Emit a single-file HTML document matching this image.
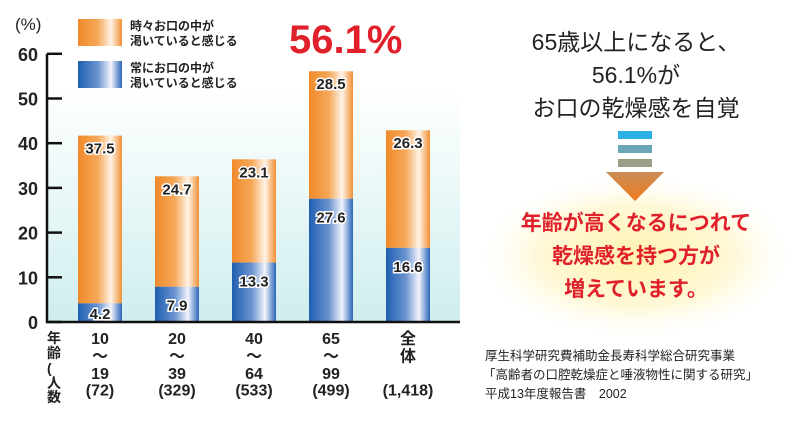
<!DOCTYPE html>
<html><head><meta charset="utf-8"><style>
body{margin:0;background:#fff;}
svg text{font-family:"Liberation Sans","Noto Sans CJK JP",sans-serif;}
</style></head><body>
<svg width="800" height="420" viewBox="0 0 800 420">
<defs>
<linearGradient id="bg" x1="0" y1="0" x2="0" y2="1"><stop offset="0" stop-color="#fff"/><stop offset="1" stop-color="#cfeeee"/></linearGradient>
<linearGradient id="og" x1="0" y1="0" x2="1" y2="0"><stop offset="0" stop-color="#f08a2a"/><stop offset="0.45" stop-color="#f6a85a"/><stop offset="0.75" stop-color="#fff3e6"/><stop offset="1" stop-color="#f29035"/></linearGradient>
<linearGradient id="bgl" x1="0" y1="0" x2="1" y2="0"><stop offset="0" stop-color="#1f5fb0"/><stop offset="0.45" stop-color="#6a93d0"/><stop offset="0.75" stop-color="#f2f4fb"/><stop offset="1" stop-color="#2a66b8"/></linearGradient>
<linearGradient id="tri" x1="0" y1="0" x2="0" y2="1"><stop offset="0" stop-color="#c98d55"/><stop offset="1" stop-color="#f07a20"/></linearGradient>
<radialGradient id="glow" cx="0.5" cy="0.5" r="0.5"><stop offset="0" stop-color="#fff3b0"/><stop offset="0.6" stop-color="#fff8d8"/><stop offset="1" stop-color="#fff" stop-opacity="0"/></radialGradient>
</defs>
<rect x="47" y="90" width="413" height="232" fill="url(#bg)"/>
<g id="bars"></g>
<g id="axis"></g>
<text x="15" y="30" font-size="17" fill="#222">(%)</text>
<rect x="78" y="19" width="44" height="27" fill="url(#og)"/>
<text x="130" y="30" font-size="12" font-weight="bold" fill="#222">時々お口の中が</text>
<text x="130" y="45" font-size="12" font-weight="bold" fill="#222">渇いていると感じる</text>
<rect x="78" y="61" width="44" height="27" fill="url(#bgl)"/>
<text x="130" y="72" font-size="12" font-weight="bold" fill="#222">常にお口の中が</text>
<text x="130" y="87" font-size="12" font-weight="bold" fill="#222">渇いていると感じる</text>
<text x="289" y="53" font-size="40" font-weight="bold" fill="#e0202a">56.1%</text>
<g font-size="14" font-weight="bold" fill="#222">
<text x="47" y="343">年</text><text x="47" y="358">齢</text><text x="47" y="373">(</text><text x="47" y="388">人</text><text x="47" y="402">数</text></g>
<ellipse cx="636" cy="256" rx="165" ry="85" fill="url(#glow)"/>
<g font-size="23" fill="#222" text-anchor="middle">
<text x="636" y="50">65歳以上になると、</text><text x="636" y="83">56.1%が</text><text x="636" y="116">お口の乾燥感を自覚</text></g>
<rect x="618" y="131" width="34" height="8" fill="#2ab0e6"/>
<rect x="618" y="145" width="34" height="8" fill="#6aa6b8"/>
<rect x="618" y="159" width="34" height="8" fill="#9a9f8a"/>
<polygon points="606,172 664,172 635,201" fill="url(#tri)"/>
<g font-size="21" font-weight="bold" fill="#e0202a" text-anchor="middle">
<text x="636" y="230">年齢が高くなるにつれて</text><text x="636" y="263">乾燥感を持つ方が</text><text x="636" y="296">増えています。</text></g>
<g font-size="12.5" fill="#222">
<text x="485" y="360">厚生科学研究費補助金長寿科学総合研究事業</text>
<text x="483" y="379">「高齢者の口腔乾燥症と唾液物性に関する研究」</text>
<text x="485" y="398">平成13年度報告書　2002</text></g>
</svg>
<script>
const categories=["10\n～\n19\n(72)","20\n～\n39\n(329)","40\n～\n64\n(533)","65\n～\n99\n(499)","全\n体\n\n(1,418)"];
const alwaysValues=[4.2,7.9,13.3,27.6,16.6];
const sometimesValues=[37.5,24.7,23.1,28.5,26.3];
const yTicks=[0,10,20,30,40,50,60];
const NS="http://www.w3.org/2000/svg";
const y0=322,pxPer=4.47,x0=100,step=77,bw=44;
const yS=v=>y0-v*pxPer, xS=i=>x0+i*step;
function mk(t,a,p,txt){const e=document.createElementNS(NS,t);for(const k in a)e.setAttribute(k,a[k]);if(txt!=null)e.textContent=txt;p.appendChild(e);return e;}
const bars=document.getElementById('bars'),axis=document.getElementById('axis');
categories.forEach((c,i)=>{
 const a=alwaysValues[i],s=sometimesValues[i],cx=xS(i);
 const b=mk('rect',{x:cx-bw/2,y:yS(a),width:bw,height:a*pxPer,fill:'url(#bgl)'},bars);
 
 
 const o=mk('rect',{x:cx-bw/2,y:yS(a+s),width:bw,height:s*pxPer,fill:'url(#og)'},bars);
 
 
 const stroke={'font-size':15,'font-weight':'bold','text-anchor':'middle',fill:'#222',stroke:'#fff','stroke-width':3,'paint-order':'stroke'};
 const t1=mk('text',Object.assign({x:cx,y:Math.min(yS(a)+24,y0-3)},stroke),bars,a.toFixed(1));
 
 
 const t2=mk('text',Object.assign({x:cx,y:yS(a+s)+18},stroke),bars,s.toFixed(1));
 
 
 const lines=c.split('\n');
 const g=mk('g',{},axis);
 
 
 lines.forEach((l,j)=>{ if(l) mk('text',{x:cx,y:344+j*17.5-(j==3?1:0),'font-size':16,'font-weight':'bold','text-anchor':'middle',fill:'#222'},g,l); });
});
const ax=mk('path',{d:`M47,${yS(60)}V${y0}H460`,stroke:'#111','stroke-width':2.5,fill:'none'},axis);


yTicks.forEach(v=>{
 const tk=mk('line',{x1:47,x2:62,y1:yS(v),y2:yS(v),stroke:'#111','stroke-width':2.5},axis);
 
 
 const tl=mk('text',{x:38,y:yS(v)+7,'font-size':18,'font-weight':'bold','text-anchor':'end',fill:'#222'},axis,String(v));
 
 
});
</script>
</body></html>
